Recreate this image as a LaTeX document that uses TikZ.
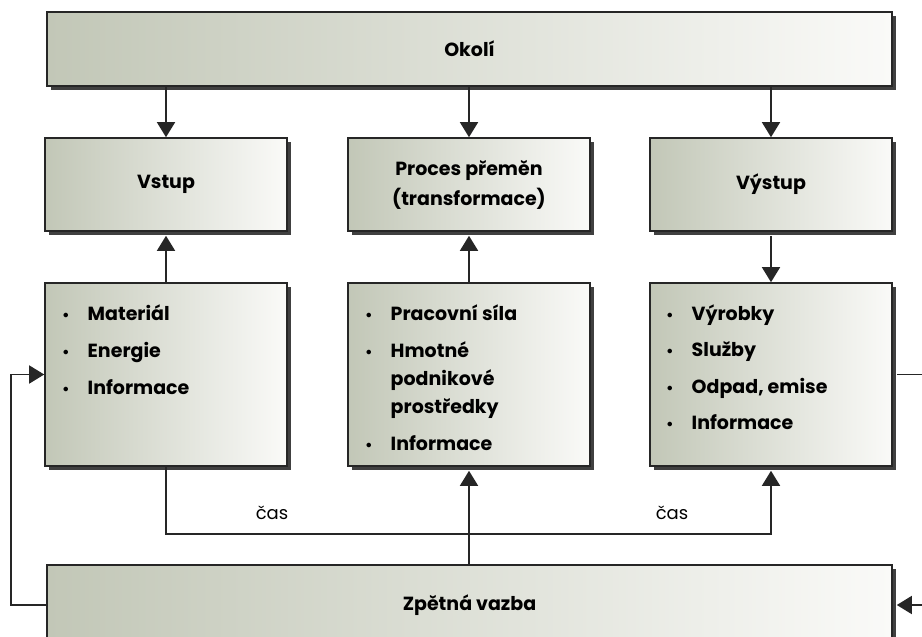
\documentclass[tikz,border=0pt]{standalone}
\usepackage{fontspec}
\setmainfont{Poppins}
\usetikzlibrary{arrows.meta,shadows}
\definecolor{sedozelena}{HTML}{C2C7B7}
\definecolor{svetla}{HTML}{FAFAF8}
\newcommand{\tecka}{{\fontsize{15}{15}\selectfont •}}

\begin{document}
\begin{tikzpicture}[x=1pt, y=-1pt,
    blok/.style={draw=black!85, line width=1.6pt, left color=sedozelena, right color=svetla,
        drop shadow={shadow xshift=4pt, shadow yshift=-4pt, fill=black!75, opacity=1},
        minimum width=242pt, inner sep=0pt, align=center,
        font=\fontsize{19}{30}\selectfont\bfseries},
    horni/.style={blok, minimum height=93pt},
    dolni/.style={blok, minimum height=183pt},
    siroky/.style={blok, minimum width=845pt},
    seznam/.style={anchor=base west, inner sep=0pt, font=\fontsize{19}{28}\selectfont\bfseries},
    sipka/.style={line width=1.6pt, draw=black!85, -{Triangle[width=18pt,length=15pt]}},
    spoj/.style={line width=1.6pt, draw=black!85},
    cas/.style={font=\fontsize{18}{20}\selectfont}]
                \useasboundingbox (0,0) rectangle (922,637);
                \clip (0,0) rectangle (922,637);
                % Boxes:
                \node[siroky, minimum height=74pt] (okoli) at (469.5, 49) {Okolí};
                \node[horni] (vstup) at (166, 184.5) {Vstup};
                \node[horni] (proces) at (469, 184.5) {Proces přeměn\\(transformace)};
                \node[horni] (vystup) at (771, 184.5) {Výstup};
                \node[dolni] (vstupIn) at (166, 374.5) {};
                \node[dolni] (procesIn) at (469, 374.5) {};
                \node[dolni] (vystupOut) at (771, 374.5) {};
                \node[siroky, minimum height=80pt] (zpetna) at (469.5, 605) {Zpětná vazba};
                % Lists:
                \node[seznam] (vstupSeznam) at (62, 320) {\begin{tabular}[t]{@{}l@{\hspace{18pt}}l@{}}
                    \tecka & Materiál\\[9pt] \tecka & Energie\\[9pt] \tecka & Informace\end{tabular}};
                \node[seznam] (procesSeznam) at (365, 320) {\begin{tabular}[t]{@{}l@{\hspace{18pt}}l@{}}
                    \tecka & Pracovní síla\\[9pt] \tecka & Hmotné\\ & podnikové\\ & prostředky\\[9pt] \tecka & Informace\end{tabular}};
                \node[seznam] (vystupSeznam) at (666, 320) {\begin{tabular}[t]{@{}l@{\hspace{18pt}}l@{}}
                    \tecka & Výrobky\\[8.5pt] \tecka & Služby\\[8.5pt] \tecka & Odpad, emise\\[8.5pt] \tecka & Informace\end{tabular}};
                % Paths and arrows:
                \draw[sipka] (okoli.south -| vstup.north) -- (vstup.north);
                \draw[sipka] (okoli.south -| proces.north) -- (proces.north);
                \draw[sipka] (okoli.south -| vystup.north) -- (vystup.north);
                \draw[sipka] (vstupIn.north) -- ([yshift=-4pt]vstup.south);
                \draw[sipka] (procesIn.north) -- ([yshift=-4pt]proces.south);
                \draw[sipka] ([yshift=-4pt]vystup.south) -- (vystupOut.north);
                \draw[sipka] (vstupIn.south) -- ++(0,67) -| ([yshift=-4pt]vystupOut.south);
                \node[cas] (cas1) at (272, 513) {čas};
                \node[cas] (cas2) at (672, 513) {čas};
                \draw[sipka] (procesIn.south |- zpetna.north) -- ([yshift=-4pt]procesIn.south);
                \draw[sipka] (zpetna.west) -- ++(-35,0) |- (vstupIn.west);
                \coordinate (pravyVen) at (930, 374.5);
                \coordinate (pravyZpet) at (930, 605);
                \draw[spoj] ([xshift=4pt]vystupOut.east) -- (pravyVen);
                \draw[sipka] (pravyZpet) -- ([xshift=4pt]zpetna.east);
            \end{tikzpicture}
\end{document}
